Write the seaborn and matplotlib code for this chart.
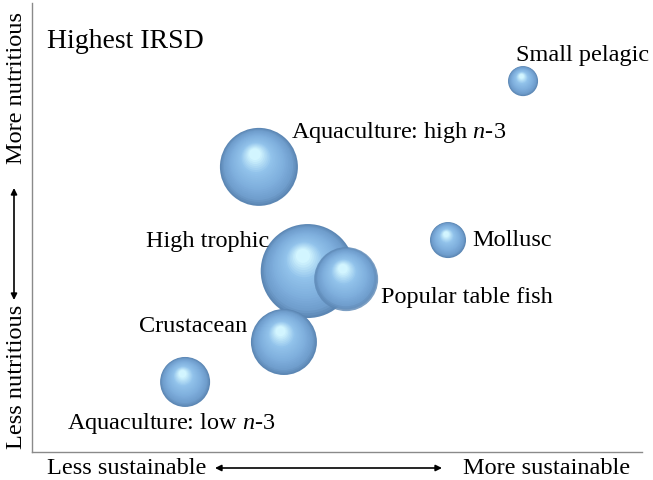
import numpy as np
import pandas as pd
import matplotlib
matplotlib.use('Agg')
import matplotlib.pyplot as plt
import matplotlib.colors as mcolors
import seaborn as sns

# bubble data (sustainability score, nutrition score, bubble area)
groups = ['Small pelagic', 'Aquaculture: high $\\it{n}$-3', 'Mollusc', 'High trophic',
          'Popular table fish', 'Crustacean', 'Aquaculture: low $\\it{n}$-3']
sustain = [80.5, 37.2, 68.2, 45.2, 51.5, 41.3, 25.1]
nutrit = [82.6, 63.5, 47.2, 40.3, 38.5, 24.5, 15.6]
area = [225, 1521, 324, 2209, 1024, 1089, 625]

# label offsets in pixels from bubble centre
lab_dx = [-7, 32, 24, -38, 35, -37, -118]
lab_dy = [26, 34, 0, 30, -18, 15, -42]
lab_ha = ['left', 'left', 'left', 'right', 'left', 'right', 'left']

df = pd.DataFrame({'group': groups, 'x': sustain, 'y': nutrit, 'area': area})

sns.set_style('white')
plt.rcParams['font.family'] = ['Liberation Serif', 'DejaVu Serif']
plt.rcParams['text.color'] = 'black'
plt.rcParams['mathtext.fontset'] = 'custom'
plt.rcParams['mathtext.it'] = 'Liberation Serif:italic'
plt.rcParams['mathtext.rm'] = 'Liberation Serif'

fig = plt.figure(figsize=(6.53, 4.8), dpi=100)
ax = fig.add_axes([32 / 653, 28 / 480, 610 / 653, 449 / 480])
ax.set_xlim(0, 100)
ax.set_ylim(0, 100)

px_x = 610 / 100
px_y = 449 / 100
k = (2 * 0.72) ** 2  # area (px^2 of radius) -> marker size in pt^2
smin, smax = min(area) * k, max(area) * k

cmap = mcolors.LinearSegmentedColormap.from_list(
    'sphere', [(0, '#5c87b4'), (0.12, '#6f9dcc'), (0.35, '#7eaedc'),
               (0.7, '#92c3eb'), (1, '#d2f5ff')])
hx, hy = -0.12, 0.38
n_layers = 24

for i, row in df.iterrows():
    r_px = np.sqrt(row['area'])
    alpha = 0.8 if row['group'] == 'Popular table fish' else 1.0
    for j in range(n_layers):
        t = j / (n_layers - 1)
        f = 1 - 0.85 * t
        sub = pd.DataFrame({
            'x': [row['x'] + (1 - f) * hx * r_px / px_x],
            'y': [row['y'] + (1 - f) * hy * r_px / px_y],
            'area': [row['area']],
        })
        sns.scatterplot(data=sub, x='x', y='y', size='area',
                        sizes=(smin * f ** 2, smax * f ** 2),
                        size_norm=(min(area), max(area)),
                        color=cmap(t), edgecolor='none',
                        alpha=alpha if j < 3 else 1.0,
                        legend=False, ax=ax, zorder=2 + i)
    ax.annotate(row['group'], (row['x'], row['y']), xytext=(lab_dx[i], lab_dy[i]),
                textcoords='offset pixels', ha=lab_ha[i], va='center',
                fontsize=17.5, zorder=20)

ax.text(47 / 653, 1 - 42 / 480, 'Highest IRSD', transform=fig.transFigure,
        fontsize=20, va='center', ha='left')

ax.set_xticks([])
ax.set_yticks([])
ax.set_xlabel('')
ax.set_ylabel('')
for s in ['top', 'right']:
    ax.spines[s].set_visible(False)
for s in ['left', 'bottom']:
    ax.spines[s].set_color('#8a8a8a')
    ax.spines[s].set_linewidth(1)

# axis direction labels and arrows
fig.text(47 / 653, 12 / 480, 'Less sustainable', fontsize=17.5, ha='left', va='center')
fig.text(630 / 653, 12 / 480, 'More sustainable', fontsize=17.5, ha='right', va='center')
fig.text(17 / 653, 1 - 88 / 480, 'More nutritious', fontsize=17.5, rotation=90,
         ha='center', va='center')
fig.text(17 / 653, 1 - 377 / 480, 'Less nutritious', fontsize=17.5, rotation=90,
         ha='center', va='center')
ax.annotate('', xy=(442 / 653, 12 / 480), xytext=(215 / 653, 12 / 480),
            xycoords='figure fraction', textcoords='figure fraction',
            arrowprops=dict(arrowstyle='<|-|>', color='black', lw=1.2,
                            mutation_scale=9, shrinkA=0, shrinkB=0))
ax.annotate('', xy=(14 / 653, 1 - 188 / 480), xytext=(14 / 653, 1 - 300 / 480),
            xycoords='figure fraction', textcoords='figure fraction',
            arrowprops=dict(arrowstyle='<|-|>', color='black', lw=1.2,
                            mutation_scale=9, shrinkA=0, shrinkB=0))

fig.savefig('out.png', dpi=100, facecolor='white')
